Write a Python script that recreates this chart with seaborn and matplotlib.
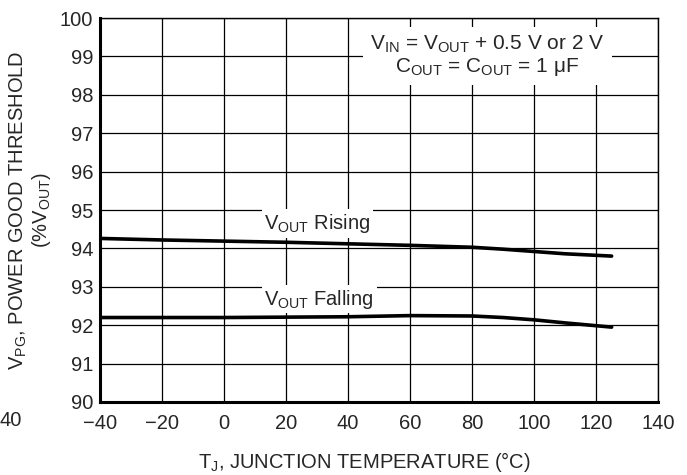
import pandas as pd
import matplotlib
matplotlib.use("Agg")
import matplotlib.pyplot as plt
import seaborn as sns

# data
temp = [-40, -20, 0, 20, 40, 60, 80, 90, 100, 110, 125]
rising = [94.26, 94.22, 94.19, 94.16, 94.12, 94.08, 94.03, 93.98, 93.92, 93.86, 93.80]
falling = [92.20, 92.20, 92.20, 92.21, 92.22, 92.25, 92.24, 92.20, 92.14, 92.06, 91.95]

x_ticks = [-40, -20, 0, 20, 40, 60, 80, 100, 120, 140]
y_ticks = list(range(90, 101))

df = pd.DataFrame({
    "T": temp + temp,
    "V": rising + falling,
    "curve": ["Rising"] * len(temp) + ["Falling"] * len(temp),
})

sns.set_style("ticks")
plt.rcParams["font.family"] = ["Liberation Sans", "DejaVu Sans"]
plt.rcParams["mathtext.fontset"] = "custom"
plt.rcParams["mathtext.rm"] = "Liberation Sans"
plt.rcParams["mathtext.it"] = "Liberation Sans:italic"

FS = 14.5

fig = plt.figure(figsize=(6.87, 4.75), dpi=100)
ax = fig.add_axes([0.1456, 0.1537, 0.8124, 0.8083])

sns.lineplot(data=df, x="T", y="V", hue="curve", palette=["black", "black"],
             linewidth=2.6, legend=False, ax=ax, zorder=4)

ax.set_xlim(-40, 140)
ax.set_ylim(90, 100)
ax.set_xticks(x_ticks)
ax.set_yticks(y_ticks)
ax.tick_params(length=0, labelsize=FS)
ax.tick_params(axis="x", pad=9)
ax.tick_params(axis="y", pad=5)
ax.grid(True, color="black", linewidth=0.9)
ax.set_axisbelow(True)
for s in ["left", "bottom"]:
    ax.spines[s].set_linewidth(2.2)
for s in ["top", "right"]:
    ax.spines[s].set_linewidth(1.0)
for s in ax.spines.values():
    s.set_color("black")
    s.set_zorder(5)

ax.set_xlabel(r"T$\mathregular{_J}$, JUNCTION TEMPERATURE (°C)", fontsize=FS)
ax.xaxis.set_label_coords(0.473, -0.125)
ax.set_ylabel("V$\\mathregular{_{PG}}$, POWER GOOD THRESHOLD\n(%V$\\mathregular{_{OUT}}$)",
              fontsize=FS, linespacing=1.05)
ax.yaxis.set_label_coords(-0.085, 0.5)

box = dict(facecolor="white", edgecolor="none", pad=2)
ax.text(13, 94.65, r"V$\mathregular{_{OUT}}$ Rising", fontsize=FS,
        va="center", ha="left", bbox=box, zorder=3)
ax.text(13, 92.68, r"V$\mathregular{_{OUT}}$ Falling", fontsize=FS,
        va="center", ha="left", bbox=box, zorder=3)
ax.text(85, 99.02,
        "V$\\mathregular{_{IN}}$ = V$\\mathregular{_{OUT}}$ + 0.5 V or 2 V\n"
        "C$\\mathregular{_{OUT}}$ = C$\\mathregular{_{OUT}}$ = 1 μF",
        fontsize=15, ha="center", va="center", linespacing=1.05,
        bbox=dict(facecolor="white", edgecolor="none", pad=5), zorder=3)

# clipped neighbour label at the left edge of the original image
fig.text(0.0, 1 - 421 / 475, "40", fontsize=FS, ha="left", va="center")

fig.savefig("out.png", dpi=100)
